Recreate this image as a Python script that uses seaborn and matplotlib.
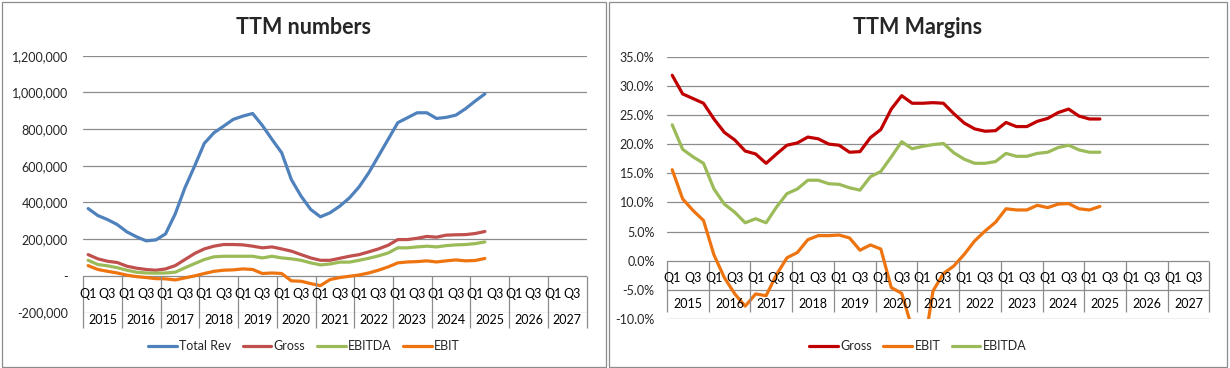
import numpy as np
import pandas as pd
import matplotlib
matplotlib.use("Agg")
import matplotlib.pyplot as plt
import seaborn as sns
from matplotlib.patches import Rectangle

# quarterly axis 2015 Q1 .. 2027 Q4, data up to 2025 Q2
years = list(range(2015, 2028))
quarters = ["Q1", "Q2", "Q3", "Q4"]

# TTM numbers (left chart)
total_rev = [367000, 329000, 307000, 280000, 240000, 213000, 191000, 196000,
             229000, 338000, 480000, 598000, 722000, 780000, 816000, 853000,
             871000, 885000, 820000, 744000, 671000, 525000, 435000, 362000,
             322000, 344000, 380000, 425000, 485000, 562000, 653000, 744000,
             835000, 862000, 889000, 889000, 858000, 864000, 876000, 911000,
             953000, 992000]
gross = [116000, 93000, 80000, 73000, 53000, 42000, 35000, 31000,
         38000, 56000, 89000, 122000, 147000, 162000, 171000, 171000,
         169000, 162000, 153000, 158000, 147000, 135000, 116000, 98000,
         85000, 85000, 96000, 107000, 116000, 131000, 147000, 167000,
         198000, 198000, 205000, 215000, 211000, 222000, 224000, 225000,
         231000, 242000]
ebitda = [85000, 62000, 55000, 45000, 31000, 20000, 16000, 15000,
          16000, 20000, 44000, 67000, 89000, 104000, 107000, 107000,
          107000, 107000, 98000, 107000, 98000, 93000, 85000, 71000,
          60000, 65000, 75000, 75000, 85000, 96000, 109000, 125000,
          153000, 153000, 158000, 162000, 158000, 165000, 169000, 171000,
          176000, 185000]
ebit = [56000, 35000, 25000, 16000, 4000, -4000, -9000, -15000,
        -16000, -22000, -11000, 0, 13000, 25000, 31000, 33000,
        38000, 35000, 13000, 16000, 13000, -27000, -29000, -42000,
        -53000, -20000, -9000, -2000, 5000, 16000, 31000, 49000,
        71000, 76000, 78000, 82000, 76000, 82000, 87000, 82000,
        84000, 95000]

# TTM margins in % (right chart)
gross_margin = [31.8, 28.6, 27.8, 27.0, 24.3, 22.0, 20.7, 18.8,
                18.3, 16.7, 18.3, 19.8, 20.2, 21.2, 20.9, 20.0,
                19.8, 18.6, 18.7, 21.1, 22.5, 26.0, 28.3, 27.0,
                27.0, 27.1, 27.0, 25.2, 23.6, 22.6, 22.2, 22.3,
                23.7, 23.0, 23.0, 23.9, 24.4, 25.4, 26.0, 24.8,
                24.3, 24.3]
ebit_margin = [15.6, 10.6, 8.6, 6.9, 1.0, -2.9, -5.7, -7.8,
               -5.7, -6.0, -2.4, 0.5, 1.4, 3.6, 4.3, 4.3,
               4.4, 3.9, 1.8, 2.7, 2.0, -4.6, -5.6, -11.6,
               -16.5, -5.2, -2.2, -0.9, 1.1, 3.4, 5.1, 6.6,
               8.9, 8.7, 8.7, 9.5, 9.1, 9.7, 9.8, 8.9,
               8.7, 9.3]
ebitda_margin = [23.3, 19.1, 17.8, 16.7, 12.3, 9.7, 8.3, 6.5,
                 7.2, 6.5, 9.2, 11.5, 12.3, 13.8, 13.8, 13.2,
                 13.1, 12.5, 12.1, 14.4, 15.3, 17.8, 20.4, 19.2,
                 19.6, 19.9, 20.1, 18.5, 17.4, 16.7, 16.7, 17.0,
                 18.4, 17.9, 17.9, 18.4, 18.6, 19.4, 19.8, 19.0,
                 18.6, 18.6]

left_series = {"Total Rev": total_rev, "Gross": gross, "EBITDA": ebitda, "EBIT": ebit}
left_colors = {"Total Rev": "#4F81BD", "Gross": "#C0504D", "EBITDA": "#9BBB59", "EBIT": "#EE7410"}
right_series = {"Gross": gross_margin, "EBIT": ebit_margin, "EBITDA": ebitda_margin}
right_colors = {"Gross": "#C00000", "EBIT": "#EE7410", "EBITDA": "#9BBB59"}

sns.set_style("white")
plt.rcParams['font.family'] = ['Lato', 'DejaVu Sans']

W, H = 1230, 368
GRID = "#8C8C8C"
fig = plt.figure(figsize=(W / 100, H / 100), dpi=100)


def long_form(series):
    rows = []
    for name, vals in series.items():
        for i, v in enumerate(vals):
            rows.append({"pos": i + 0.5, "value": v, "series": name})
    return pd.DataFrame(rows)


def make_axes(x0, x1, ytop, ybot):
    return fig.add_axes([x0 / W, 1 - ybot / H, (x1 - x0) / W, (ybot - ytop) / H])


def category_axis(ax, q_y, year_y, sep_bottom):
    n = len(years) * 4
    ax.set_xlim(0, n)
    ax.set_xticks([])
    for k, yr in enumerate(years):
        for j in (0, 2):
            ax.text(4 * k + j + 0.5, q_y, quarters[j], ha="center", va="center",
                    fontsize=9, color="#000000", clip_on=False)
        ax.text(4 * k + 2, year_y, str(yr), ha="center", va="center",
                fontsize=9, color="#000000", clip_on=False)
    ax.vlines([4 * k for k in range(len(years) + 1)], sep_bottom, 0,
              color=GRID, lw=0.9, clip_on=False)


def style(ax):
    for s in ax.spines.values():
        s.set_visible(False)
    ax.grid(axis="y", color=GRID, lw=0.9)
    ax.grid(axis="x", visible=False)
    ax.set_xlabel("")
    ax.set_ylabel("")


# left chart: TTM numbers
ax1 = make_axes(83.3, 586.5, 55.7, 312.6)
sns.lineplot(data=long_form(left_series), x="pos", y="value", hue="series",
             hue_order=list(left_series), palette=left_colors, lw=2.3,
             ax=ax1, legend=False, solid_joinstyle="round", solid_capstyle="round")
ax1.set_ylim(-200000, 1200000)
ax1.set_yticks(np.arange(-200000, 1200001, 200000))
ax1.set_yticklabels(["-" if v == 0 else f"{v:,.0f}" for v in ax1.get_yticks()])
ax1.tick_params(axis="y", length=0, pad=11, labelsize=9)
style(ax1)
category_axis(ax1, -100000, -241000, -285000)

# right chart: TTM margins
ax2 = make_axes(667, 1209.4, 56.6, 319)
sns.lineplot(data=long_form(right_series), x="pos", y="value", hue="series",
             hue_order=list(right_series), palette=right_colors, lw=2.3,
             ax=ax2, legend=False, solid_joinstyle="round", solid_capstyle="round")
ax2.set_ylim(-10, 35)
ax2.set_yticks(np.arange(-10, 35.1, 5))
ax2.set_yticklabels([f"{v:.1f}%" for v in ax2.get_yticks()])
ax2.tick_params(axis="y", length=0, pad=9, labelsize=9)
style(ax2)
category_axis(ax2, -2.9, -7.4, -8.8)

# titles
fig.text(304 / W, 1 - 27 / H, "TTM numbers", ha="center", va="center",
         fontsize=15.5, fontweight="bold")
fig.text(918 / W, 1 - 27 / H, "TTM Margins", ha="center", va="center",
         fontsize=15.5, fontweight="bold")

# legends
for series, colors, cx in ((left_series, left_colors, 304), (right_series, right_colors, 918)):
    handles = [plt.Line2D([], [], color=colors[n], lw=2.3) for n in series]
    fig.legend(handles, list(series), loc="center", bbox_to_anchor=(cx / W, 1 - 346 / H),
               ncol=len(series), frameon=False, fontsize=9, handlelength=2.3,
               handletextpad=0.2, columnspacing=0.9)

# chart area borders
for x0, x1 in ((2, 606), (609, 1227)):
    fig.add_artist(Rectangle((x0 / W, 1.5 / H), (x1 - x0) / W, (366 - 1.5) / H,
                             transform=fig.transFigure, fill=False,
                             edgecolor="#8C8C8C", lw=0.9))

fig.savefig("out.png", dpi=100)
